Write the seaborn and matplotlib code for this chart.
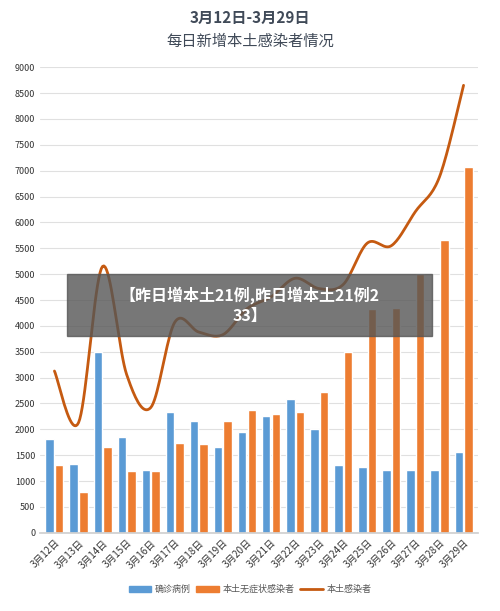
import numpy as np
import matplotlib.pyplot as plt
import seaborn as sns
import pandas as pd
from matplotlib.patches import Patch
from matplotlib.lines import Line2D

days = [f"3月{d}日" for d in range(12, 30)]
confirmed = [1807, 1338, 3500, 1860, 1220, 2330, 2160, 1660, 1950, 2260, 2580, 2000, 1310, 1280, 1210, 1210, 1220, 1570]
asymptomatic = [1320, 790, 1650, 1200, 1200, 1740, 1720, 2170, 2380, 2300, 2340, 2720, 3490, 4320, 4340, 5000, 5660, 7080]
local_total = [3127, 2128, 5150, 3060, 2420, 4070, 3880, 3830, 4330, 4560, 4920, 4720, 4800, 5600, 5550, 6210, 6880, 8650]

sns.set_theme(style="white")
plt.rcParams['font.family'] = ['Noto Sans CJK SC', 'DejaVu Sans']

blue, orange, brown = "#5b9bd5", "#ed7d31", "#c55a11"

fig = plt.figure(figsize=(5, 6.11), dpi=100)
ax = fig.add_axes([0.08, 0.128, 0.876, 0.762])

df = pd.DataFrame({"day": days * 2, "value": confirmed + asymptomatic,
                   "kind": ["确诊病例"] * 18 + ["本土无症状感染者"] * 18})
sns.barplot(data=df, x="day", y="value", hue="kind", palette=[blue, orange],
            width=0.8, gap=0.12, saturation=1, ax=ax, legend=False)

# smooth line through points (Catmull-Rom)
x = np.arange(len(days), dtype=float)
y = np.array(local_total, dtype=float)
px, py = [], []
xp = np.concatenate([[x[0]], x, [x[-1]]])
yp = np.concatenate([[y[0]], y, [y[-1]]])
t = np.linspace(0, 1, 20)
for i in range(1, len(xp) - 2):
    p0, p1, p2, p3 = [np.array([xp[j], yp[j]]) for j in (i - 1, i, i + 1, i + 2)]
    for tt in t:
        pt = 0.5 * ((2 * p1) + (-p0 + p2) * tt + (2 * p0 - 5 * p1 + 4 * p2 - p3) * tt**2
                    + (-p0 + 3 * p1 - 3 * p2 + p3) * tt**3)
        px.append(pt[0]); py.append(pt[1])
ax.plot(px, py, color=brown, lw=2)

ax.set_ylim(0, 9000)
ax.set_xlim(-0.6, 17.6)
ax.set_yticks(range(0, 9001, 500))
ax.tick_params(axis='y', labelsize=6.5, colors="#333333", length=0)
ax.tick_params(axis='x', labelsize=7, colors="#333333", length=0, rotation=45)
for lab in ax.get_xticklabels():
    lab.set_ha("right"); lab.set_rotation_mode("anchor")
ax.grid(axis='y', color="#e0e0e0", lw=0.8)
ax.set_axisbelow(True)
sns.despine(ax=ax, left=True)
ax.spines['bottom'].set_color("#d0d0d0")
ax.set_xlabel(""); ax.set_ylabel("")

fig.text(0.5, 0.962, "3月12日-3月29日", ha="center", fontsize=11, weight="bold", color="#404a58")
fig.text(0.5, 0.925, "每日新增本土感染者情况", ha="center", fontsize=11, color="#404a58")

handles = [Patch(color=blue, label="确诊病例"), Patch(color=orange, label="本土无症状感染者"),
           Line2D([], [], color=brown, lw=2, label="本土感染者")]
fig.legend(handles=handles, loc="center", bbox_to_anchor=(0.5, 0.035), ncol=3, frameon=False,
           fontsize=6.5, handlelength=2.5, columnspacing=0.6, handletextpad=0.4,
           labelcolor="#555555")

fig.patches.append(plt.Rectangle((0.134, 0.45), 0.73, 0.102, transform=fig.transFigure,
                                 color="#555555", alpha=0.8, zorder=5))
fig.text(0.5, 0.5, "【昨日增本土21例,昨日增本土21例2\n33】", ha="center", va="center",
         fontsize=11.5, weight="bold", color="white", zorder=6, linespacing=1.3)

fig.savefig("out.png")
